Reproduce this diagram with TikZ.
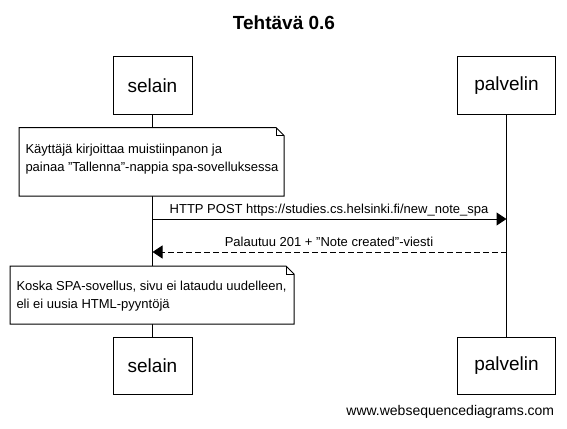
\documentclass[tikz,border=0pt]{standalone}
\usepackage{fontspec}
\setmainfont{Liberation Sans}
\usetikzlibrary{arrows.meta}
\begin{document}
\begin{tikzpicture}[x=1pt,y=-1pt,line width=1pt,
  actor/.style={draw,fill=white,minimum width=79pt,minimum height=57pt,inner sep=0pt,font=\fontsize{19}{22}\selectfont},
  msg/.style={-{Triangle[length=10pt,width=13pt]}},
  lbl/.style={font=\fontsize{13}{15}\selectfont,inner sep=0pt},
  notetext/.style={font=\fontsize{13}{18}\selectfont,align=left,anchor=west,inner sep=0pt}]
  \useasboundingbox (0,0) rectangle (567,428);
  \fill[white] (0,0) rectangle (567,428);

  % title
  \node[font=\bfseries\fontsize{19}{22}\selectfont] (title) at (284,23) {Tehtävä 0.6};

  % participants
  \node[actor] (s1) at (152.5,85.5) {selain};
  \node[actor,minimum width=98pt] (p1) at (506.5,85.5) {palvelin};
  \node[actor] (s2) at (152.5,365.5) {selain};
  \node[actor,minimum width=98pt] (p2) at (506.5,365.5) {palvelin};

  % lifelines
  \draw (s1.south) -- (s2.north);
  \draw (p1.south) -- (p2.north);

  % first note
  \draw[fill=white] (19,127.5) -- (276,127.5) -- (284,135.5) -- (284,196) -- (19,196) -- cycle;
  \draw (276,127.5) -- (276,135.5) -- (284,135.5);
  \node[notetext] (n1) at (25,159.5) {Käyttäjä kirjoittaa muistiinpanon ja\\painaa "Tallenna"-nappia spa-sovelluksessa};

  % messages
  \coordinate (a1s) at (s1.south |- 0,219);
  \coordinate (a1e) at (p1.south |- 0,219);
  \draw[msg] (a1s) -- (a1e);
  \node[lbl] (l1) at (329,210.5) {HTTP POST https://studies.cs.helsinki.fi/new\_note\_spa};

  \coordinate (a2s) at (p1.south |- 0,252);
  \coordinate (a2e) at (s1.south |- 0,252);
  \draw[msg,dash pattern=on 6pt off 3pt] (a2s) -- (a2e);
  \node[lbl] (l2) at (329,241.5) {Palautuu 201 + "Note created"-viesti};

  % second note
  \draw[fill=white] (10,266) -- (286,266) -- (294,274) -- (294,324) -- (10,324) -- cycle;
  \draw (286,266) -- (286,274) -- (294,274);
  \node[notetext] (n2) at (16,296.5) {Koska SPA-sovellus, sivu ei lataudu uudelleen,\\eli ei uusia HTML-pyyntöjä};

  % footer
  \node[font=\fontsize{14}{16}\selectfont,anchor=east] (wm) at (558,412) {www.websequencediagrams.com};
\end{tikzpicture}
\end{document}
